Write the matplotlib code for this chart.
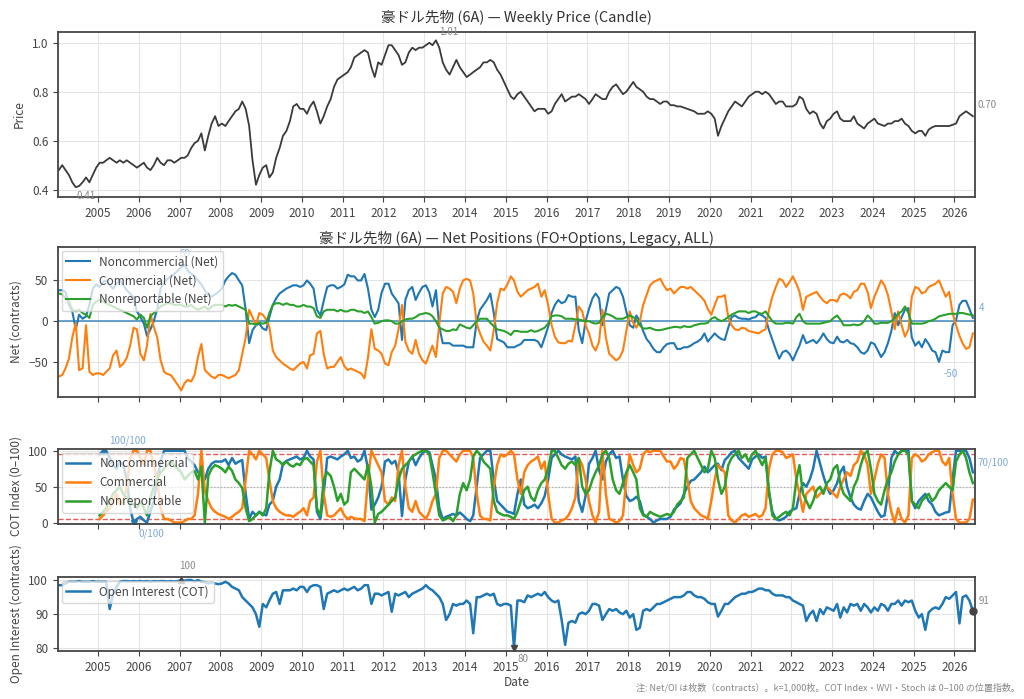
import pandas as pd
import matplotlib
matplotlib.use('Agg')
import matplotlib.pyplot as plt
import matplotlib.dates as mdates

plt.rcParams['font.family'] = ['Noto Sans CJK JP', 'DejaVu Sans']

# monthly readings, Jan 2004 .. Jun 2026
price = [
    0.48, 0.50, 0.48, 0.46, 0.43, 0.41, 0.415, 0.43, 0.45, 0.43, 0.46, 0.49,
    0.51, 0.51, 0.52, 0.53, 0.52, 0.51, 0.52, 0.51, 0.52, 0.51, 0.50, 0.49,
    0.50, 0.51, 0.49, 0.48, 0.50, 0.53, 0.51, 0.50, 0.52, 0.52, 0.51, 0.52,
    0.53, 0.53, 0.54, 0.57, 0.59, 0.60, 0.63, 0.56, 0.62, 0.67, 0.70, 0.66,
    0.67, 0.66, 0.68, 0.70, 0.72, 0.73, 0.76, 0.73, 0.66, 0.52, 0.42, 0.46,
    0.49, 0.50, 0.45, 0.47, 0.53, 0.57, 0.62, 0.64, 0.68, 0.74, 0.75, 0.73,
    0.73, 0.71, 0.74, 0.76, 0.72, 0.67, 0.70, 0.74, 0.77, 0.82, 0.85, 0.86,
    0.87, 0.88, 0.90, 0.94, 0.95, 0.96, 0.97, 0.96, 0.90, 0.86, 0.92, 0.91,
    0.95, 0.99, 0.99, 0.97, 0.95, 0.91, 0.92, 0.96, 0.98, 0.97, 0.98, 0.98,
    0.99, 1.00, 0.99, 1.01, 0.98, 0.92, 0.89, 0.87, 0.90, 0.93, 0.90, 0.88,
    0.86, 0.87, 0.88, 0.89, 0.90, 0.92, 0.92, 0.93, 0.92, 0.89, 0.87, 0.84,
    0.81, 0.78, 0.77, 0.79, 0.80, 0.78, 0.76, 0.74, 0.72, 0.73, 0.73, 0.73,
    0.71, 0.72, 0.75, 0.77, 0.79, 0.76, 0.77, 0.78, 0.78, 0.79, 0.78, 0.77,
    0.75, 0.77, 0.79, 0.78, 0.77, 0.77, 0.80, 0.82, 0.83, 0.81, 0.79, 0.80,
    0.82, 0.84, 0.82, 0.81, 0.80, 0.78, 0.77, 0.77, 0.76, 0.75, 0.76, 0.76,
    0.745, 0.745, 0.74, 0.74, 0.735, 0.73, 0.725, 0.72, 0.71, 0.71, 0.71, 0.72,
    0.71, 0.69, 0.62, 0.66, 0.69, 0.72, 0.74, 0.76, 0.75, 0.74, 0.76, 0.78,
    0.79, 0.80, 0.80, 0.79, 0.80, 0.79, 0.77, 0.75, 0.76, 0.76, 0.74, 0.74,
    0.74, 0.75, 0.78, 0.77, 0.73, 0.71, 0.72, 0.71, 0.67, 0.65, 0.68, 0.69,
    0.71, 0.72, 0.69, 0.68, 0.68, 0.68, 0.70, 0.67, 0.66, 0.65, 0.67, 0.68,
    0.69, 0.67, 0.665, 0.66, 0.67, 0.67, 0.68, 0.68, 0.69, 0.67, 0.66, 0.64,
    0.63, 0.64, 0.64, 0.62, 0.645, 0.655, 0.66, 0.66, 0.66, 0.66, 0.66, 0.665,
    0.67, 0.70, 0.71, 0.72, 0.71, 0.70,
]

nc_net = [
    38, 38, 36, 20, 12, -10, 8, 3, 6, 20, 40, 45,
    42, 48, 50, 44, 40, 46, 50, 44, 38, 34, 28, 12,
    5, -3, -18, -10, 0, 15, 40, 48, 52, 55, 58, 62,
    66, 69, 62, 58, 55, 50, 45, 38, 32, 30, 33, 36,
    40, 50, 55, 59, 57, 50, 44, 14, -27, -11, -5, -3,
    -9, -11, 5, 20, 28, 34, 37, 40, 42, 44, 44, 42,
    44, 50, 46, 40, 14, 7, 25, 42, 44, 44, 40, 42,
    45, 57, 55, 55, 50, 50, 58, 40, 14, 5, 14, 35,
    46, 46, 34, 28, 22, -23, 26, 38, 42, 26, 35, 42,
    44, 35, 18, 38, -7, -27, -27, -27, -30, -30, -30, -30,
    -32, -32, -32, 0, 14, 20, 26, 34, 10, -22, -24, -26,
    -32, -32, -32, -30, -28, -23, -23, -23, -23, -25, -32, -20,
    -7, 10, 20, 26, 22, 24, 32, 30, 30, -11, -27, 0,
    15, 28, 34, 28, -5, 14, 34, 38, 42, 40, 30, 12,
    -5, -8, 7, 0, -12, -22, -27, -34, -38, -38, -32, -28,
    -27, -27, -34, -34, -32, -32, -30, -27, -25, -22, -15, -25,
    -20, -15, -19, -22, -23, -8, 5, 7, 4, 3, 3, 2,
    4, 5, 9, 7, 4, -11, -23, -35, -46, -38, -36, -40,
    -48, -38, -30, -17, -27, -25, -23, -27, -22, -15, -22, -26,
    -27, -19, -25, -26, -23, -27, -28, -32, -38, -40, -36, -26,
    -28, -36, -44, -38, -27, -12, 10, -5, 5, 14, 16, -20,
    -30, -25, -32, -22, -28, -36, -38, -50, -36, -38, -38, -5,
    1, 20, 25, 25, 15, 4,
]

c_net = [
    -68, -66, -58, -46, -20, -2, -60, -58, -5, -62, -66, -64,
    -64, -66, -62, -58, -42, -36, -56, -52, -45, -30, -8, -10,
    -40, -48, -30, 9, -7, -20, -48, -62, -65, -66, -72, -78,
    -85, -76, -72, -74, -66, -44, -28, -60, -64, -68, -70, -66,
    -66, -68, -70, -68, -66, -60, -40, -20, 14, 5, -5, 10,
    8, 2, -7, -36, -44, -48, -52, -55, -58, -60, -56, -52,
    -50, -58, -42, -40, -15, -12, -40, -58, -56, -56, -50, -44,
    -55, -60, -58, -60, -62, -64, -70, -45, -10, -34, -36, -40,
    -52, -54, -38, -30, -10, 20, -25, -36, -40, -23, -40, -48,
    -52, -40, -30, -44, -3, 34, 42, 40, 36, 22, 40, 50,
    52, 50, 34, -3, -15, -25, -30, -36, -11, 22, 40, 38,
    45, 55, 50, 36, 30, 34, 38, 40, 42, 46, 30, 38,
    20, -5, -19, -26, -27, -27, -24, -25, -5, 18, 12, -5,
    -15, -30, -36, -25, 14, -20, -40, -44, -48, -45, -36, -12,
    12, -2, -8, 0, 20, 32, 44, 48, 50, 52, 44, 38,
    40, 34, 38, 42, 42, 40, 42, 38, 34, 30, 25, 15,
    8, 20, 30, 30, 32, 5, -5, -10, -11, -8, -9, -12,
    -13, -14, -15, -12, -10, 14, 30, 42, 52, 50, 42, 48,
    55, 46, 36, 14, 30, 32, 34, 36, 30, 25, 22, 26,
    26, 24, 32, 34, 32, 28, 36, 38, 46, 46, 36, 16,
    30, 40, 50, 44, 32, 12, -10, 12, -5, -19, -10, 30,
    42, 40, 34, 36, 42, 44, 46, 50, 40, 30, 36, 10,
    -5, -18, -27, -34, -32, -15,
]

nr_net = [
    34, 33, 28, 24, 14, 12, 14, 10, 8, 4, 20, 24,
    26, 24, 22, 20, 18, 16, 14, 12, 10, 8, 6, 2,
    8, 4, -8, 6, 10, 14, 18, 20, 22, 22, 20, 20,
    20, 18, 18, 20, 16, 14, 16, 18, 14, 18, 20, 20,
    20, 18, 20, 19, 20, 18, 16, 14, -3, -3, -4, -2,
    -3, -2, 10, 20, 22, 22, 20, 22, 20, 20, 18, 18,
    20, 18, 18, 16, 6, 4, 12, 14, 14, 14, 12, 14,
    12, 12, 14, 14, 12, 12, 10, 12, 5, -3, -2, 0,
    1, 1, 0, -3, -3, 0, 2, 3, 3, 5, 8, 9,
    10, 9, 6, 0, -8, -10, -12, -12, -10, -11, -4, -6,
    -8, -9, -5, 0, 3, 3, 3, -2, -6, -10, -11, -12,
    -14, -17, -12, -12, -13, -13, -13, -11, -13, -12, -10, -8,
    -3, 6, 7, 7, 6, 3, 3, 3, 2, 2, 1, 0,
    0, -2, -3, -2, 5, 9, 8, 6, 3, 3, 3, 5,
    7, 5, 2, -5, -9, -9, -8, -10, -11, -11, -10, -9,
    -8, -7, -7, -8, -6, -7, -7, -5, -4, -3, -3, -2,
    3, 5, 2, 0, 2, 5, 8, 10, 12, 12, 12, 10,
    12, 12, 10, 9, 12, 6, 0, -3, -3, -3, -2, -2,
    -3, 5, 9, 0, -3, -3, -3, -3, -3, -2, -1, 0,
    4, 7, 2, -5, -5, -5, -4, -5, -4, 0, 7, 3,
    -3, -3, -2, -2, -2, 0, 4, 9, 12, 18, 10, -3,
    -3, -3, -3, -2, 0, 1, 3, 6, 7, 8, 9, 9,
    9, 10, 10, 9, 8, 7,
]

# COT index (52-week window), Jan 2005 .. Jun 2026
nc_idx = [
    95, 100, 100, 90, 80, 75, 85, 80, 60, 20, 0, 5,
    8, 3, 0, 15, 30, 60, 85, 100, 100, 100, 100, 100,
    100, 100, 90, 85, 80, 70, 65, 60, 75, 82, 85, 85,
    85, 88, 80, 90, 82, 85, 87, 40, 5, 15, 10, 15,
    12, 10, 25, 30, 50, 60, 82, 86, 88, 90, 92, 88,
    90, 100, 92, 88, 15, 5, 40, 90, 92, 90, 88, 92,
    95, 100, 90, 92, 85, 88, 100, 75, 18, 25, 35, 50,
    85, 88, 82, 86, 70, 9, 60, 85, 92, 80, 90, 97,
    100, 98, 80, 60, 20, 5, 8, 10, 12, 10, 14, 10,
    5, 2, 10, 50, 90, 95, 100, 100, 60, 30, 25, 20,
    15, 14, 12, 40, 60, 25, 20, 22, 25, 20, 27, 37,
    60, 90, 95, 100, 95, 92, 90, 88, 92, 30, 15, 37,
    82, 90, 100, 73, 60, 85, 95, 100, 90, 92, 60, 37,
    30, 32, 36, 30, 12, 8, 5, 0, 3, 5, 5, 5,
    8, 18, 22, 27, 40, 50, 58, 60, 65, 70, 78, 70,
    75, 80, 82, 73, 87, 92, 98, 100, 90, 85, 80, 75,
    88, 92, 95, 90, 92, 40, 15, 5, 3, 5, 8, 15,
    18, 20, 40, 55, 50, 60, 75, 100, 82, 65, 50, 40,
    45, 55, 70, 78, 50, 35, 25, 20, 18, 30, 40, 35,
    25, 15, 8, 10, 40, 90, 100, 95, 100, 100, 100, 30,
    20, 30, 35, 40, 30, 25, 15, 10, 12, 14, 15, 60,
    100, 100, 100, 100, 90, 70,
]

c_idx = [
    5, 10, 15, 20, 30, 40, 25, 30, 50, 90, 100, 100,
    90, 80, 100, 100, 80, 60, 20, 5, 5, 3, 0, 0,
    0, 2, 5, 5, 10, 40, 100, 45, 30, 20, 15, 12,
    10, 8, 5, 8, 12, 15, 20, 60, 100, 95, 88, 100,
    95, 90, 60, 30, 20, 15, 12, 10, 10, 8, 12, 15,
    20, 10, 30, 35, 85, 100, 40, 10, 8, 10, 15, 20,
    10, 5, 8, 6, 5, 5, 2, 60, 100, 90, 80, 70,
    30, 25, 35, 30, 80, 100, 50, 20, 15, 30, 15, 10,
    5, 15, 30, 40, 90, 100, 100, 95, 90, 85, 95, 100,
    100, 100, 90, 40, 10, 5, 5, 3, 50, 80, 95, 92,
    95, 100, 95, 60, 40, 70, 80, 85, 88, 92, 75, 85,
    40, 5, 0, 0, 3, 5, 10, 20, 35, 90, 80, 60,
    30, 10, 0, 15, 100, 40, 5, 3, 0, 2, 10, 60,
    95, 80, 70, 75, 95, 100, 98, 100, 100, 100, 92, 85,
    85, 75, 80, 90, 88, 60, 30, 20, 15, 10, 8, 5,
    30, 60, 80, 75, 70, 10, 3, 0, 5, 10, 12, 8,
    10, 12, 8, 10, 20, 75, 95, 100, 100, 98, 90, 92,
    95, 60, 40, 15, 40, 45, 50, 35, 40, 45, 50, 45,
    40, 35, 50, 60, 70, 65, 80, 85, 100, 95, 80, 40,
    60, 82, 95, 90, 40, 15, 0, 20, 5, 0, 10, 90,
    95, 92, 85, 88, 95, 98, 100, 100, 85, 80, 90, 40,
    5, 0, 0, 0, 5, 32,
]

nr_idx = [
    10, 15, 20, 30, 40, 45, 50, 40, 35, 30, 25, 20,
    30, 20, 10, 35, 50, 60, 70, 75, 80, 85, 80, 75,
    70, 60, 65, 70, 72, 60, 78, 0, 65, 75, 80, 78,
    75, 70, 78, 72, 60, 55, 48, 20, 2, 5, 10, 15,
    10, 20, 70, 100, 88, 85, 80, 85, 80, 78, 82, 80,
    88, 90, 85, 80, 20, 10, 60, 70, 65, 50, 30, 40,
    25, 30, 70, 75, 70, 65, 60, 80, 50, 0, 12, 15,
    20, 25, 30, 35, 60, 75, 80, 85, 92, 95, 98, 100,
    100, 95, 70, 40, 10, 3, 5, 8, 2, 10, 40, 55,
    45, 60, 92, 100, 95, 85, 80, 75, 30, 15, 12, 10,
    10, 8, 5, 15, 30, 45, 50, 35, 30, 45, 55, 60,
    75, 100, 100, 90, 80, 75, 82, 85, 80, 90, 50, 40,
    45, 60, 70, 80, 95, 100, 90, 60, 45, 40, 55, 70,
    80, 70, 60, 20, 10, 8, 15, 12, 10, 8, 10, 12,
    10, 15, 25, 30, 35, 90, 95, 100, 90, 80, 70, 75,
    100, 90, 60, 40, 50, 80, 90, 95, 100, 90, 95, 85,
    95, 100, 90, 80, 90, 45, 10, 5, 8, 12, 15, 10,
    20, 60, 80, 40, 30, 20, 30, 45, 50, 40, 55, 60,
    75, 80, 55, 40, 35, 30, 50, 60, 80, 95, 100, 75,
    40, 30, 25, 45, 60, 70, 85, 95, 100, 100, 95, 30,
    25, 20, 30, 35, 40, 30, 35, 45, 50, 55, 50, 45,
    85, 95, 100, 90, 70, 55,
]

oi = [
    98.5, 98.5, 99.0, 99.5, 99.5, 99.5, 99.7, 99.5, 99.5, 99.5, 99.7, 99.5,
    99.5, 99.5, 99.5, 91.5, 96.0, 98.0, 99.5, 99.7, 99.7, 99.6, 99.7, 99.6,
    99.7, 99.6, 99.7, 99.5, 99.7, 99.6, 99.7, 99.7, 99.6, 99.7, 99.6, 99.7,
    100.0, 99.8, 100.0, 100.0, 99.6, 100.0, 99.5, 99.4, 99.0, 99.2, 99.0, 98.8,
    99.0, 99.5, 99.0, 98.0, 97.5, 97.0, 95.0, 94.0, 93.0, 92.0, 90.0, 86.3,
    93.0, 92.0, 94.0, 96.0, 96.5, 93.0, 97.0, 97.0, 97.0, 97.5, 97.0, 98.0,
    98.0, 96.5, 98.0, 98.5, 98.5, 98.0, 91.5, 96.0, 96.5, 97.0, 96.5, 97.0,
    97.5, 97.0, 97.5, 98.0, 97.0, 97.5, 98.5, 98.5, 93.0, 96.0, 96.0, 95.5,
    96.0, 96.5, 90.7, 96.0, 95.5, 96.0, 96.5, 95.0, 96.0, 96.5, 97.0, 97.5,
    98.5, 97.5, 97.0, 96.0, 95.0, 93.0, 88.3, 90.0, 93.0, 92.5, 93.0, 93.0,
    94.0, 93.0, 84.4, 95.0, 95.0, 95.5, 96.0, 95.5, 96.0, 93.0, 92.5, 93.0,
    93.0, 92.5, 80.0, 94.0, 94.0, 93.5, 95.5, 95.0, 95.5, 96.0, 95.5, 96.5,
    95.0, 94.0, 93.5, 94.0, 88.3, 81.0, 87.5, 88.0, 87.5, 90.0, 90.5, 90.0,
    91.0, 93.0, 93.0, 92.5, 88.3, 90.0, 91.5, 91.0, 91.5, 90.5, 90.0, 91.0,
    89.0, 90.0, 85.4, 86.0, 91.0, 91.5, 91.0, 92.0, 93.0, 93.0, 93.5, 94.0,
    94.5, 95.0, 95.0, 95.0, 95.5, 96.5, 96.5, 95.5, 95.0, 95.0, 94.5, 93.5,
    93.0, 93.0, 89.3, 91.0, 93.0, 93.0, 94.0, 95.0, 95.5, 96.0, 96.0, 96.5,
    96.5, 97.0, 97.5, 97.5, 97.0, 97.0, 96.0, 95.5, 95.5, 95.5, 95.0, 95.0,
    94.0, 93.5, 93.0, 92.5, 88.0, 90.0, 91.0, 88.0, 91.5, 90.0, 92.0, 91.5,
    91.0, 93.0, 89.0, 92.0, 90.5, 93.0, 92.5, 93.0, 91.0, 93.0, 92.0, 90.5,
    92.0, 91.0, 93.0, 92.5, 91.0, 93.0, 93.0, 94.0, 92.5, 94.0, 93.5, 94.0,
    91.0, 89.0, 90.0, 85.4, 90.5, 91.5, 92.0, 91.5, 93.0, 95.0, 94.5, 95.5,
    96.5, 87.3, 95.0, 95.5, 94.0, 91.0,
]

BLUE, ORANGE, GREEN = '#1f77b4', '#ff7f0e', '#2ca02c'
LBLUE = '#7fa9d6'


def months(start, n):
    return pd.date_range(start, periods=n, freq='MS') + pd.Timedelta(days=14)


d_price = months('2004-01-01', len(price))
d_net = months('2004-01-01', len(nc_net))
d_cot = months('2005-01-01', len(nc_idx))
d_oi = months('2004-01-01', len(oi))

fig = plt.figure(figsize=(10.24, 6.99), dpi=100)


def box(top, bottom):
    return [58 / 1024, 1 - bottom / 699, 917 / 1024, (bottom - top) / 699]


ax1 = fig.add_axes(box(32, 197))
ax2 = fig.add_axes(box(247, 397), sharex=ax1)
ax3 = fig.add_axes(box(449, 524), sharex=ax1)
ax4 = fig.add_axes(box(577, 651), sharex=ax1)

for ax in (ax1, ax2, ax3, ax4):
    ax.grid(True, color='#e4e4e4', lw=0.8)
    ax.set_axisbelow(True)
    for s in ax.spines.values():
        s.set_color('#444')
        s.set_linewidth(1.3)
    ax.tick_params(colors='#444', labelsize=8.5, length=3.5)


def tag(ax, x, y, text, dx, dy, color, ha='center'):
    ax.annotate(text, xy=(x, y), xytext=(dx, dy), textcoords='offset pixels',
                ha=ha, va='center', fontsize=7, color=color, annotation_clip=False)


# price
ps = pd.Series(price, index=d_price)
ax1.plot(d_price, price, color='#3a3a3a', lw=1.3)
ax1.set_ylim(0.37, 1.044)
ax1.set_yticks([0.4, 0.6, 0.8, 1.0])
ax1.set_ylabel('Price', fontsize=8.5, color='#444')
ax1.set_title('豪ドル先物 (6A) — Weekly Price (Candle)', fontsize=10.5, color='#333', pad=7)
tag(ax1, ps.idxmax(), ps.max(), f'{ps.max():.2f}', 13, 8, '#888')
tag(ax1, ps.idxmin(), ps.min(), f'{ps.min():.2f}', 10, -9, '#888')
tag(ax1, d_price[-1], price[-1], f'{price[-1]:.2f}', 5, 11, '#888', ha='left')

# net positions
ax2.axhline(0, color=BLUE, lw=1.1, alpha=0.85)
ax2.plot(d_net, nc_net, color=BLUE, lw=1.5, label='Noncommercial (Net)')
ax2.plot(d_net, c_net, color=ORANGE, lw=1.5, label='Commercial (Net)')
ax2.plot(d_net, nr_net, color=GREEN, lw=1.5, label='Nonreportable (Net)')
ax2.set_ylim(-93, 91)
ax2.set_yticks([-50, 0, 50])
ax2.set_ylabel('Net (contracts)', fontsize=8.5, color='#444')
ax2.set_title('豪ドル先物 (6A) — Net Positions (FO+Options, Legacy, ALL)',
              fontsize=10.5, color='#333', pad=3)
ns = pd.Series(nc_net, index=d_net)
tag(ax2, ns.idxmax(), ns.max(), f'{ns.max():.0f}', 0, 11, LBLUE)
tag(ax2, ns.idxmin(), ns.min(), f'{ns.min():.0f}', 12, -12, LBLUE)
tag(ax2, d_net[-1], nc_net[-1], f'{nc_net[-1]:.0f}', 6, 10, LBLUE, ha='left')
ax2.legend(loc='upper left', fontsize=8.5, framealpha=0.75, borderaxespad=0.3,
           labelcolor='#444')
ax2.tick_params(labelbottom=False)

# COT index
ax3.axhline(95, color='#e04040', lw=1, ls='--', alpha=0.85)
ax3.axhline(5, color='#e04040', lw=1, ls='--', alpha=0.85)
ax3.axhline(50, color='#aaaaaa', lw=0.9, ls=':')
ax3.plot(d_cot, nc_idx, color=BLUE, lw=1.8, label='Noncommercial')
ax3.plot(d_cot, c_idx, color=ORANGE, lw=1.8, label='Commercial')
ax3.plot(d_cot, nr_idx, color=GREEN, lw=1.8, label='Nonreportable')
ax3.set_ylim(-2, 102.5)
ax3.set_yticks([0, 50, 100])
ax3.set_ylabel('COT Index (0–100)', fontsize=8.5, color='#444')
cs = pd.Series(nc_idx, index=d_cot)
ax3.plot([cs.idxmax()], [cs.max()], marker='^', ms=4, color=BLUE)
ax3.plot([cs.idxmin()], [cs.min()], marker='v', ms=4, color=BLUE)
tag(ax3, cs.idxmax(), cs.max(), f'{cs.max():.0f}/100', 24, 10, LBLUE)
tag(ax3, cs.idxmin(), cs.min(), f'{cs.min():.0f}/100', 18, -11, LBLUE)
tag(ax3, d_cot[-1], nc_idx[-1], f'{nc_idx[-1]:.0f}/100', 5, 10, LBLUE, ha='left')
ax3.legend(loc='upper left', fontsize=8.5, framealpha=0.75, borderaxespad=0.3,
           labelcolor='#444')
ax3.tick_params(labelbottom=False)

# open interest
ax4.plot(d_oi, oi, color=BLUE, lw=1.8, label='Open Interest (COT)')
ax4.set_ylim(79.2, 100.9)
ax4.set_yticks([80, 90, 100])
ax4.set_ylabel('Open Interest (contracts)', fontsize=8.5, color='#444')
os_ = pd.Series(oi, index=d_oi)
ax4.plot([os_.idxmax()], [os_.max()], marker='^', ms=5, color='#444')
ax4.plot([os_.idxmin()], [os_.min()], marker='v', ms=5, color='#444')
ax4.plot([d_oi[-1]], [oi[-1]], marker='o', ms=5, color='#444', clip_on=False)
tag(ax4, os_.idxmax(), os_.max(), f'{os_.max():.0f}', 6, 14, '#888')
tag(ax4, os_.idxmin(), os_.min(), f'{os_.min():.0f}', 9, -11, '#888')
tag(ax4, d_oi[-1], oi[-1], f'{oi[-1]:.0f}', 6, 10, '#888', ha='left')
ax4.legend(loc='upper left', fontsize=8.5, framealpha=0.75, borderaxespad=0.3,
           labelcolor='#444')
ax4.set_xlabel('Date', fontsize=8.5, color='#444', labelpad=2)

ax1.xaxis.set_major_locator(mdates.YearLocator())
ax1.xaxis.set_major_formatter(mdates.DateFormatter('%Y'))
ax1.set_xlim(pd.Timestamp('2004-01-08'), pd.Timestamp('2026-07-04'))
ax1.tick_params(labelbottom=True)

fig.text(0.996, 0.017,
         '注: Net/OI は枚数（contracts）。k=1,000枚。COT Index・WVI・Stoch は 0–100 の位置指数。',
         ha='right', va='center', fontsize=6.5, color='#888')

fig.savefig('out.png', dpi=100)
